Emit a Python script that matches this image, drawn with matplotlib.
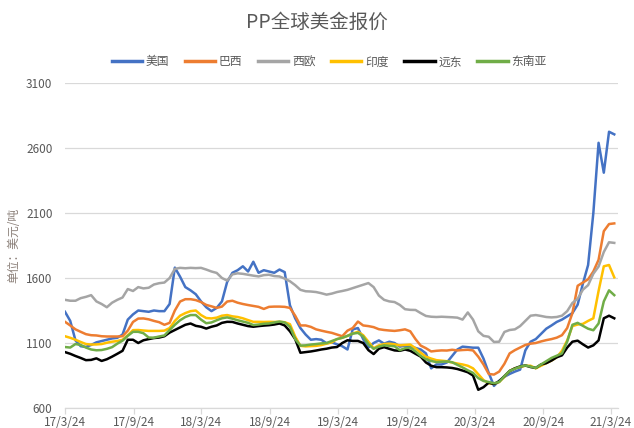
import matplotlib
matplotlib.use('Agg')
import matplotlib.pyplot as plt
import pandas as pd

plt.rcParams['font.family'] = ['Noto Sans CJK SC', 'DejaVu Sans']

# biweekly observations starting 2017-03-24
start_date = '2017-03-24'
n_points = 106

usa = [1340, 1270, 1120, 1075, 1070, 1085, 1105, 1115, 1125, 1135,
       1140, 1165, 1280, 1320, 1350, 1345, 1340, 1350, 1345, 1345,
       1400, 1680, 1610, 1530, 1505, 1475, 1420, 1375, 1345, 1370,
       1420, 1570, 1640, 1660, 1690, 1650, 1725, 1640, 1660, 1650,
       1640, 1665, 1645, 1390, 1290, 1215, 1165, 1125, 1130, 1125,
       1098, 1105, 1090, 1075, 1050, 1205, 1215, 1130, 1065, 1100,
       1120, 1095, 1110, 1100, 1072, 1080, 1070, 1062, 1050, 1020,
       905, 935, 935, 950, 1000, 1050, 1072, 1068, 1064, 1064,
       980, 870, 770, 810, 840, 862, 880, 895, 1043, 1110,
       1130, 1170, 1210, 1235, 1262, 1280, 1305, 1330, 1395, 1556,
       1700, 2100, 2640, 2410, 2725, 2705]

brazil = [1263, 1235, 1205, 1186, 1168, 1160, 1158, 1152, 1150, 1150,
          1150, 1152, 1195, 1262, 1288, 1289, 1282, 1270, 1260, 1240,
          1255, 1350, 1419, 1437, 1437, 1430, 1415, 1393, 1382, 1370,
          1380, 1419, 1425, 1410, 1400, 1392, 1385, 1378, 1362, 1378,
          1380, 1380, 1378, 1370, 1310, 1235, 1235, 1224, 1205, 1195,
          1186, 1178, 1165, 1152, 1195, 1215, 1265, 1235, 1230, 1222,
          1206, 1200, 1196, 1193, 1198, 1205, 1190, 1130, 1080, 1060,
          1035, 1040, 1043, 1042, 1048, 1043, 1046, 1048, 1043, 995,
          935, 862, 857, 880, 940, 1020, 1045, 1065, 1085, 1095,
          1100, 1112, 1122, 1130, 1141, 1160, 1215, 1330, 1540, 1565,
          1590, 1650, 1740, 1960, 2015, 2020]

west_europe = [1432, 1425, 1425, 1445, 1455, 1468, 1420, 1400, 1375, 1410,
               1432, 1450, 1515, 1500, 1530, 1520, 1525, 1550, 1560, 1565,
               1600, 1670, 1678, 1675, 1678, 1676, 1678, 1665, 1650, 1639,
               1600, 1580, 1628, 1636, 1632, 1625, 1618, 1612, 1622, 1625,
               1615, 1612, 1595, 1575, 1545, 1509, 1498, 1496, 1492, 1483,
               1472, 1480, 1492, 1500, 1509, 1522, 1535, 1548, 1561, 1530,
               1465, 1432, 1420, 1415, 1393, 1360, 1355, 1354, 1330, 1308,
               1302, 1300, 1302, 1300, 1298, 1295, 1280, 1335, 1280, 1190,
               1155, 1148, 1108, 1110, 1185, 1200, 1205, 1230, 1270, 1310,
               1315, 1308, 1300, 1297, 1300, 1310, 1345, 1408, 1440, 1510,
               1545, 1633, 1688, 1800, 1875, 1870]

india = [1152, 1140, 1125, 1108, 1092, 1088, 1089, 1092, 1102, 1110,
         1115, 1125, 1160, 1199, 1200, 1196, 1193, 1193, 1193, 1195,
         1215, 1270, 1310, 1330, 1345, 1350, 1315, 1292, 1289, 1295,
         1310, 1315, 1305, 1300, 1290, 1276, 1263, 1263, 1262, 1263,
         1262, 1263, 1260, 1245, 1150, 1078, 1074, 1076, 1078, 1084,
         1095, 1105, 1130, 1140, 1155, 1173, 1186, 1160, 1110, 1060,
         1082, 1092, 1095, 1090, 1082, 1085, 1088, 1060, 1025, 995,
         980, 968, 964, 960, 950, 942, 935, 925, 905, 860,
         815, 790, 785, 800, 840, 885, 905, 915, 925, 925,
         905, 925, 945, 965, 990, 1040, 1120, 1230, 1242, 1247,
         1270, 1290, 1500, 1690, 1700, 1605]

far_east = [1030, 1017, 1000, 985, 968, 970, 982, 962, 975, 995,
            1017, 1040, 1125, 1125, 1100, 1121, 1130, 1138, 1142, 1152,
            1180, 1200, 1220, 1240, 1250, 1232, 1225, 1211, 1225, 1235,
            1255, 1263, 1262, 1250, 1240, 1230, 1225, 1230, 1234, 1237,
            1242, 1250, 1235, 1190, 1130, 1025, 1030, 1035, 1042, 1050,
            1056, 1065, 1069, 1100, 1121, 1116, 1116, 1100, 1045, 1015,
            1056, 1068, 1055, 1043, 1040, 1050, 1040, 1017, 995, 950,
            925, 914, 914, 912, 908, 900, 888, 875, 850, 740,
            760, 795, 784, 805, 845, 885, 905, 920, 927, 915,
            908, 935, 945, 965, 990, 1005, 1065, 1110, 1118, 1090,
            1065, 1082, 1120, 1290, 1310, 1290]

se_asia = [1069, 1065, 1092, 1085, 1065, 1050, 1044, 1046, 1055, 1068,
           1095, 1118, 1155, 1186, 1186, 1175, 1142, 1141, 1150, 1158,
           1200, 1240, 1275, 1300, 1315, 1315, 1280, 1252, 1258, 1275,
           1290, 1297, 1287, 1275, 1265, 1255, 1238, 1242, 1248, 1250,
           1258, 1265, 1258, 1225, 1130, 1080, 1082, 1088, 1092, 1097,
           1100, 1115, 1130, 1140, 1155, 1172, 1178, 1150, 1090, 1055,
           1072, 1082, 1078, 1075, 1045, 1060, 1065, 1035, 1000, 975,
           962, 953, 956, 958, 952, 932, 912, 890, 870, 830,
           808, 800, 790, 800, 845, 885, 902, 918, 927, 918,
           908, 935, 960, 985, 1002, 1020, 1110, 1240, 1255, 1232,
           1210, 1198, 1250, 1420, 1505, 1468]

series_names = ['美国', '巴西', '西欧', '印度', '远东', '东南亚']
series_values = [usa, brazil, west_europe, india, far_east, se_asia]
colors = ['#4472C4', '#ED7D31', '#A5A5A5', '#FFC000', '#000000', '#70AD47']

tick_dates = ['2017-03-24', '2017-09-24', '2018-03-24', '2018-09-24', '2019-03-24',
              '2019-09-24', '2020-03-24', '2020-09-24', '2021-03-24']
tick_labels = ['17/3/24', '17/9/24', '18/3/24', '18/9/24', '19/3/24',
               '19/9/24', '20/3/24', '20/9/24', '21/3/24']
y_ticks = [600, 1100, 1600, 2100, 2600, 3100]

dates = pd.date_range(start_date, periods=n_points, freq='14D')

W, H = 634, 428
fig = plt.figure(figsize=(W / 100, H / 100), dpi=100)
ax = fig.add_axes([65 / W, (H - 408) / H, (618 - 65) / W, (408 - 83) / H])

for name, vals, c in zip(series_names, series_values, colors):
    ax.plot(dates, vals, color=c, lw=1.8, label=name, solid_joinstyle='round')

ax.set_ylim(600, 3100)
ax.set_xlim(pd.Timestamp('2017-03-24'), pd.Timestamp('2021-04-12'))
ax.set_yticks(y_ticks)
ax.set_xticks(pd.to_datetime(tick_dates))
ax.set_xticklabels(tick_labels)
ax.grid(axis='y', color='#D9D9D9', lw=0.9)
ax.set_axisbelow(True)
for s in ['top', 'right', 'left']:
    ax.spines[s].set_visible(False)
ax.spines['bottom'].set_color('#D9D9D9')
ax.spines['bottom'].set_linewidth(0.9)
ax.tick_params(axis='y', length=0, pad=9, labelsize=8.5, labelcolor='#595959')
ax.tick_params(axis='x', length=4, width=0.9, color='#D9D9D9', labelsize=8.5,
               labelcolor='#595959', pad=2)

fig.text(0.5, 1 - 22 / H, 'PP全球美金报价', ha='center', va='center',
         fontsize=14, color='#595959')
leg = fig.legend(loc='center', bbox_to_anchor=(329 / W, 1 - 62 / H), ncol=6,
                 frameon=False, fontsize=8.5, handlelength=2.6,
                 handletextpad=0.3, columnspacing=1.3, labelcolor='#595959')
for line in leg.get_lines():
    line.set_linewidth(2.5)

fig.text(14 / W, 1 - 245 / H, '单位：美元/吨', rotation=90, ha='center', va='center',
         fontsize=8.5, color='#8A7F78')

fig.savefig('out.png', dpi=100)
